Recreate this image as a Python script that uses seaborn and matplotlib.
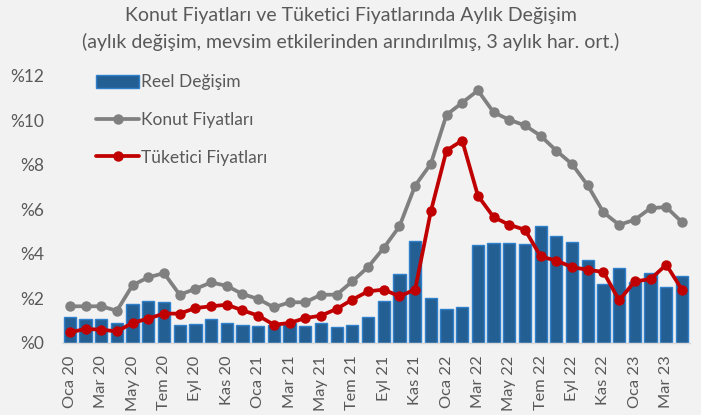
import numpy as np
import pandas as pd
import matplotlib
matplotlib.use("Agg")
import matplotlib.pyplot as plt
import seaborn as sns
from matplotlib.patches import Patch
from matplotlib.lines import Line2D
from matplotlib.ticker import FixedLocator

months_tr = ["Oca", "Şub", "Mar", "Nis", "May", "Haz", "Tem", "Ağu", "Eyl", "Eki", "Kas", "Ara"]
years = ["20", "21", "22", "23"]
categories = [f"{m} {y}" for y in years for m in months_tr][:40]  # Oca 20 .. Nis 23

reel = [1.15, 1.06, 1.06, 0.91, 1.75, 1.89, 1.84, 0.82, 0.87, 1.06, 0.91, 0.82,
        0.75, 0.82, 0.90, 0.75, 0.90, 0.70, 0.82, 1.15, 1.87, 3.10, 4.60, 2.00,
        1.53, 1.60, 4.42, 4.50, 4.50, 4.46, 5.28, 4.82, 4.55, 3.74, 2.65, 3.37,
        2.72, 3.14, 2.50, 3.00]
konut = [1.65, 1.65, 1.65, 1.45, 2.60, 2.95, 3.14, 2.17, 2.43, 2.72, 2.57, 2.20,
         1.98, 1.60, 1.83, 1.83, 2.17, 2.17, 2.77, 3.41, 4.27, 5.24, 7.07, 8.05,
         10.25, 10.80, 11.35, 10.37, 10.03, 9.78, 9.31, 8.64, 8.04, 7.08, 5.87, 5.31,
         5.54, 6.06, 6.11, 5.43]
tufe = [0.48, 0.63, 0.60, 0.52, 0.90, 1.10, 1.32, 1.32, 1.57, 1.65, 1.72, 1.47,
        1.23, 0.82, 0.90, 1.12, 1.23, 1.53, 1.95, 2.32, 2.40, 2.10, 2.40, 5.91,
        8.65, 9.10, 6.62, 5.66, 5.31, 5.09, 3.89, 3.70, 3.41, 3.29, 3.19, 1.92,
        2.77, 2.87, 3.52, 2.40]
yticks = [0, 2, 4, 6, 8, 10, 12]
ytick_labels = [f"%{v}" for v in yticks]

df = pd.DataFrame({"idx": np.arange(len(categories)), "ay": categories,
                   "Reel": reel, "Konut": konut, "TUFE": tufe})

sns.set_style("white")
plt.rcParams["font.family"] = ["Lato", "DejaVu Sans"]

BG = "#F2F2F2"
TXT = "#595959"
BAR = "#245F94"
BAR_EDGE = "#2F80CC"
GRAY = "#808080"
RED = "#C00000"

fig = plt.figure(figsize=(7.01, 4.15), dpi=100, facecolor=BG)
ax = fig.add_axes([0.0884, 0.1735, 0.8956, 0.6434])
ax.set_facecolor(BG)

sns.barplot(data=df, x="idx", y="Reel", native_scale=True, color=BAR,
            edgecolor=BAR_EDGE, linewidth=1.0, width=0.78, saturation=1, ax=ax, zorder=1)
sns.lineplot(data=df, x="idx", y="Konut", color=GRAY, linewidth=2.7, marker="o",
             markersize=7.5, markeredgewidth=0, ax=ax, zorder=3)
sns.lineplot(data=df, x="idx", y="TUFE", color=RED, linewidth=2.7, marker="o",
             markersize=7.5, markeredgewidth=0, ax=ax, zorder=4)

ax.set_xlim(-0.5, len(categories) - 0.5)
ax.set_ylim(0, 12)
ax.set_xlabel("")
ax.set_ylabel("")

ax.set_yticks(yticks)
ax.set_yticklabels(ytick_labels, fontsize=12.5, color=TXT)
ax.tick_params(axis="y", length=0, pad=13)

major = list(range(0, len(categories), 2))
ax.set_xticks(major)
ax.set_xticklabels([categories[i] for i in major], rotation=90, fontsize=11.8, color=TXT)
ax.xaxis.set_minor_locator(FixedLocator(np.arange(-0.5, len(categories), 2).tolist() + [len(categories) - 0.5]))
ax.tick_params(axis="x", which="major", length=0, pad=9)
ax.tick_params(axis="x", which="minor", length=5, color="#D9D9D9", width=1)

for s in ["top", "right", "left"]:
    ax.spines[s].set_visible(False)
ax.spines["bottom"].set_color("#D9D9D9")
ax.spines["bottom"].set_linewidth(1)

handles = [Patch(facecolor=BAR, edgecolor=BAR_EDGE, linewidth=1.0),
           Line2D([0], [0], color=GRAY, lw=2.7, marker="o", markersize=7.5, markeredgewidth=0),
           Line2D([0], [0], color=RED, lw=2.7, marker="o", markersize=7.5, markeredgewidth=0)]
leg = ax.legend(handles, ["Reel Değişim", "Konut Fiyatları", "Tüketici Fiyatları"],
                loc="upper left", bbox_to_anchor=(0.029, 1.065), frameon=False,
                fontsize=12.5, labelspacing=1.25, handlelength=2.5, handletextpad=0.12,
                handleheight=0.8)
for t in leg.get_texts():
    t.set_color(TXT)

fig.text(0.5, 0.962, "Konut Fiyatları ve Tüketici Fiyatlarında Aylık Değişim",
         ha="center", va="center", fontsize=14, color=TXT)
fig.text(0.5, 0.899, "(aylık değişim, mevsim etkilerinden arındırılmış, 3 aylık har. ort.)",
         ha="center", va="center", fontsize=14, color=TXT)

fig.savefig("out.png", dpi=100, facecolor=BG)
